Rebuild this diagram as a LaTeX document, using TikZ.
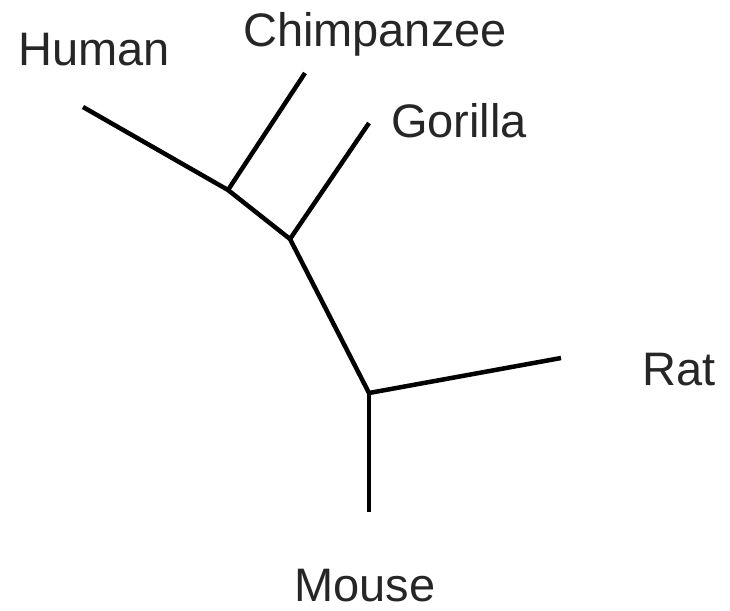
\documentclass[tikz,border=0pt]{standalone}
\usepackage{fontspec}
\setmainfont{Liberation Sans}
\usetikzlibrary{positioning}

\begin{document}
\begin{tikzpicture}[x=1pt,y=-1pt,
  branch/.style={line width=4.5pt},
  taxon/.style={font=\fontsize{47}{56}\selectfont,anchor=base,text=black!85}]
\useasboundingbox (0,0) rectangle (730,610);
% nodi interni
\coordinate (hc) at (228,190);
\coordinate (hcg) at (290,239);
\coordinate (root) at (369,393);
% estremi dei rami
\coordinate (human) at (83,107);
\coordinate (chimp) at (305,73);
\coordinate (gorilla) at (369,123);
\coordinate (rat) at (561,358);
\coordinate (mouse) at (369,512);
% rami
\draw[branch] (human) -- (hc) -- (hcg) -- (root) -- (rat);
\draw[branch] (hc) -- (chimp);
\draw[branch] (hcg) -- (gorilla);
\draw[branch] (root) -- (mouse);
% etichette
\node[taxon] (lhuman) at (94,65) {Human};
\node[taxon] (lchimp) at (375,47) {Chimpanzee};
\node[taxon] (lgorilla) at (459,137) {Gorilla};
\node[taxon] (lrat) at (679,385) {Rat};
\node[taxon] (lmouse) at (365,601) {Mouse};
\end{tikzpicture}
\end{document}
